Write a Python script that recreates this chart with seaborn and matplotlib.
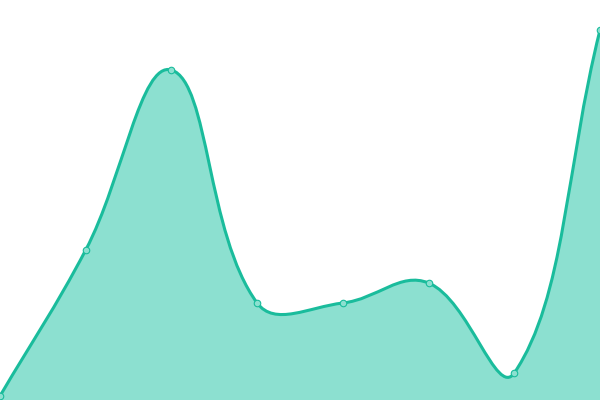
import matplotlib
matplotlib.use("Agg")
import matplotlib.pyplot as plt
from matplotlib.path import Path
from matplotlib.patches import PathPatch
import numpy as np
import pandas as pd
import seaborn as sns

# data (y axis runs 0..400, x is point index)
labels = ["p1", "p2", "p3", "p4", "p5", "p6", "p7", "p8"]
values = [4, 150, 330, 97, 97, 117, 27, 370]

line_color = "#1abc9c"
fill_color = "#8ce0d0"
tension = 0.4

sns.set_style("white")
fig = plt.figure(figsize=(6, 4), dpi=100)
ax = fig.add_axes([0, 0, 1, 1])
ax.set_xlim(0, len(values) - 1)
ax.set_ylim(0, 400)
ax.axis("off")

df = pd.DataFrame({"idx": np.arange(len(values)), "value": values})

# spline control points (same idea as chart.js splineCurve), distances in pixels
pts = ax.transData.transform(np.column_stack([df["idx"], df["value"]]).astype(float))
n = len(pts)
ctrl_prev = pts.copy()
ctrl_next = pts.copy()
for i in range(n):
    prev = pts[max(i - 1, 0)]
    cur = pts[i]
    nxt = pts[min(i + 1, n - 1)]
    d01 = np.hypot(*(cur - prev))
    d12 = np.hypot(*(nxt - cur))
    tot = d01 + d12
    s01 = d01 / tot if tot else 0
    s12 = d12 / tot if tot else 0
    ctrl_prev[i] = cur - tension * s01 * (nxt - prev)
    ctrl_next[i] = cur + tension * s12 * (nxt - prev)

# keep control points inside the plot area
bbox = ax.bbox
for c in (ctrl_prev, ctrl_next):
    c[:, 0] = np.clip(c[:, 0], bbox.x0, bbox.x1)
    c[:, 1] = np.clip(c[:, 1], bbox.y0, bbox.y1)

inv = ax.transData.inverted()
pts_d = inv.transform(pts)
cp_d = inv.transform(ctrl_prev)
cn_d = inv.transform(ctrl_next)

verts = [pts_d[0]]
codes = [Path.MOVETO]
for i in range(1, n):
    verts += [cn_d[i - 1], cp_d[i], pts_d[i]]
    codes += [Path.CURVE4] * 3

line_path = Path(verts, codes)
fill_path = Path(verts + [(pts_d[-1][0], 0), (pts_d[0][0], 0), pts_d[0]],
                 codes + [Path.LINETO, Path.LINETO, Path.CLOSEPOLY])

ax.add_patch(PathPatch(fill_path, facecolor=fill_color, edgecolor="none", zorder=1))
ax.add_patch(PathPatch(line_path, facecolor="none", edgecolor=line_color, lw=2.2, zorder=2))

sns.scatterplot(data=df, x="idx", y="value", ax=ax, s=22, color=fill_color,
                edgecolor=line_color, linewidth=0.8, zorder=3, legend=False)
ax.set_xlim(0, len(values) - 1)
ax.set_ylim(0, 400)
ax.axis("off")

fig.savefig("out.png", dpi=100)
